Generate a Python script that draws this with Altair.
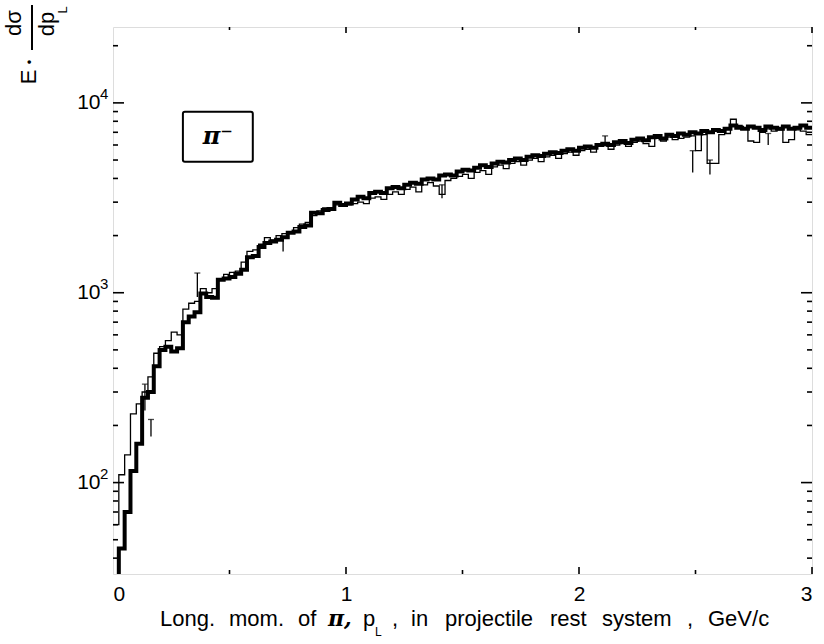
import altair as alt
import pandas as pd

# Histogram bin width in GeV/c; bin i covers [i*w, (i+1)*w)
BIN_WIDTH = 0.025

# E * d(sigma)/dp_L per bin, heavy histogram
thick_counts = [
    20, 45, 70, 115, 160, 280, 300, 410, 500, 520,
    490, 510, 700, 750, 790, 990, 950, 940, 1170, 1190,
    1210, 1260, 1320, 1540, 1560, 1740, 1830, 1860, 1900, 1960,
    2070, 2100, 2220, 2260, 2640, 2620, 2730, 2760, 2980, 2900,
    2950, 3100, 3200, 3150, 3350, 3400, 3350, 3550, 3600, 3550,
    3700, 3800, 3750, 3950, 4000, 3950, 4150, 4200, 4150, 4350,
    4450, 4400, 4550, 4700, 4600, 4800, 4900, 4850, 5000, 5100,
    5000, 5200, 5300, 5250, 5400, 5500, 5450, 5600, 5700, 5600,
    5800, 5900, 5800, 6000, 6100, 6000, 6200, 6300, 6150, 6400,
    6500, 6350, 6600, 6700, 6500, 6800, 6700, 6900, 6800, 7000,
    6900, 7100, 7000, 7200, 7100, 7300, 7600, 7400, 7300, 7500,
    7400, 7200, 7500, 7400, 7300, 7500, 7300, 7400, 7600, 7400,
]

# Same quantity, light histogram
thin_counts = [
    60, 110, 140, 230, 260, 300, 360, 480, 520, 560,
    620, 600, 820, 880, 900, 1050, 1000, 1050, 1180, 1250,
    1280, 1300, 1450, 1650, 1680, 1800, 1950, 1900, 2000, 2050,
    2100, 2200, 2300, 2350, 2550, 2700, 2800, 2750, 2900, 2850,
    2900, 2950, 3000, 2950, 3150, 3200, 3100, 3300, 3400, 3300,
    3500, 3600, 3400, 3700, 3800, 3650, 3300, 3900, 4000, 4100,
    4200, 4000, 4300, 4400, 4200, 4600, 4700, 4500, 4800, 4900,
    4700, 5000, 5100, 4900, 5200, 5300, 5100, 5400, 5500, 5300,
    5600, 5700, 5500, 5900, 6000, 5700, 6000, 6100, 5900, 6200,
    6300, 6100, 5900, 6500, 6300, 6600, 6400, 6500, 6600, 6700,
    5600, 6800, 4800, 4800, 6800, 6900, 8200, 7600, 7300, 6300,
    6200, 7000, 7300, 7100, 7200, 6200, 6400, 7200, 7100, 6800,
]

# Error bars: bin centre, lower and upper end
err_p = [0.137, 0.163, 0.362, 0.730, 1.412, 2.112, 2.488, 2.562, 2.812]
err_lo = [240, 175, 950, 1650, 3150, 5900, 4300, 4200, 6000]
err_hi = [330, 215, 1270, 1950, 3700, 6700, 5600, 5000, 6900]

# Tick positions and labels
x_labels = [0, 1, 2, 3]
x_major = [1, 2, 3]
x_minor = [0.5, 1.5, 2.5]
y_major = [100, 1000, 10000]
y_exponents = ["2", "3", "4"]
y_minor = [40, 50, 60, 70, 80, 90,
           200, 300, 400, 500, 600, 700, 800, 900,
           2000, 3000, 4000, 5000, 6000, 7000, 8000, 9000, 20000]

W, H = 699, 547
Y_DOMAIN = [33, 25100]
FONT = "Liberation Sans"

xs = alt.Scale(domain=[0, 3], nice=False, zero=False)
ys = alt.Scale(type="log", domain=Y_DOMAIN, nice=False)

x_axis = alt.Axis(values=x_labels, format="d", ticks=False, domain=False,
                  grid=False, labelFontSize=21, labelPadding=9, title=None,
                  labelFont=FONT, labelColor="black")
y_axis = alt.Axis(values=y_major, ticks=False, domain=False, grid=False,
                  labelExpr="'10'", labelFontSize=21, labelPadding=13, title=None,
                  labelFont=FONT, labelColor="black")


def X(field):
    return alt.X(field, scale=xs, axis=x_axis)


def Y(field):
    return alt.Y(field, scale=ys, axis=y_axis)


def step_frame(vals):
    edges = [i * BIN_WIDTH for i in range(len(vals) + 1)]
    return pd.DataFrame({"p": edges, "v": list(vals) + [vals[-1]]})


thin = alt.Chart(step_frame(thin_counts)).mark_line(
    interpolate="step-after", color="black", strokeWidth=1.3, clip=True
).encode(x=X("p:Q"), y=Y("v:Q"))

thick = alt.Chart(step_frame(thick_counts)).mark_line(
    interpolate="step-after", color="black", strokeWidth=4, clip=True
).encode(x=X("p:Q"), y=Y("v:Q"))

err_df = pd.DataFrame({"p": err_p, "lo": err_lo, "hi": err_hi})
err_rule = alt.Chart(err_df).mark_rule(color="black", strokeWidth=1.3).encode(
    x=X("p:Q"), y=Y("lo:Q"), y2="hi:Q")
err_cap = alt.Chart(err_df).mark_tick(color="black", thickness=1.3, size=6,
                                      orient="horizontal").encode(
    x=X("p:Q"), y=Y("hi:Q"))

# Inward tick marks on all four sides
ymaj_df = pd.DataFrame({"v": y_major, "e": y_exponents})
ymin_df = pd.DataFrame({"v": y_minor})
xmaj_df = pd.DataFrame({"p": x_major})
xmin_df = pd.DataFrame({"p": x_minor})


def y_ticks(df, x0, x1):
    return alt.Chart(df).mark_rule(color="black", strokeWidth=1.6).encode(
        y=Y("v:Q"), x=alt.value(x0), x2=alt.value(x1))


def x_ticks(df, y0, y1):
    return alt.Chart(df).mark_rule(color="black", strokeWidth=1.6).encode(
        x=X("p:Q"), y=alt.value(y0), y2=alt.value(y1))


ticks = [
    y_ticks(ymaj_df, 0, 11), y_ticks(ymin_df, 0, 5),
    y_ticks(ymaj_df, W - 11, W), y_ticks(ymin_df, W - 5, W),
    x_ticks(xmaj_df, H, H - 7), x_ticks(xmin_df, H, H - 4),
    x_ticks(xmaj_df, 0, 6), x_ticks(xmin_df, 0, 3),
]

# Decade exponents next to the "10" labels
exps = alt.Chart(ymaj_df).mark_text(
    font=FONT, fontSize=15, color="black", align="left", baseline="middle", dy=-9
).encode(y=Y("v:Q"), x=alt.value(-13), text="e:N")

# Particle label box
box_df = pd.DataFrame({"p0": [0.30], "p1": [0.60], "v0": [4900], "v1": [8970],
                       "pc": [0.45], "vc": [6650], "txt": ["π⁻"]})
box = alt.Chart(box_df).mark_rect(fill="white", stroke="black", strokeWidth=2,
                                  cornerRadius=2).encode(
    x=X("p0:Q"), x2="p1:Q", y=Y("v0:Q"), y2="v1:Q")
box_txt = alt.Chart(box_df).mark_text(font="DejaVu Serif", fontSize=24,
                                      fontStyle="italic", fontWeight="bold",
                                      color="black").encode(
    x=X("pc:Q"), y=Y("vc:Q"), text="txt:N")

anchor = pd.DataFrame({"a": [0]})


def label(txt, x, y, size, angle=0, align="center", font=FONT, style="normal",
          weight="normal"):
    """A free text placed in pixels relative to the plot's top-left corner."""
    return alt.Chart(anchor).mark_text(
        text=txt, angle=angle, color="black", font=font, fontSize=size,
        fontStyle=style, fontWeight=weight, align=align, baseline="middle"
    ).encode(x=alt.value(x), y=alt.value(y))


# Rotated y-axis title:  E . d(sigma) / d p_L
ytitle = [
    label("dσ", -99, -4, 22, angle=270),
    label("dp", -66, -3, 22, angle=270),
    label("L", -50, -17, 13, angle=270),
    label("E", -84, 50, 22, angle=270),
    label("•", -83, 35, 13, angle=270),
]
ybar = alt.Chart(anchor).mark_rule(color="black", strokeWidth=2).encode(
    x=alt.value(-81), y=alt.value(-22), y2=alt.value(23))

# x-axis title, word by word (evenly spaced lettering), with subscript L
OX = 113
xt_y = 592
xwords = [("Long.", 160), ("mom.", 229), ("of", 298), ("p", 363), (",", 392),
          ("in", 411), ("projectile", 445), ("rest", 550), ("system", 602),
          (",", 687), ("GeV/c", 708)]
xtitle = [label(w, px - OX, xt_y, 22, align="left") for w, px in xwords]
xtitle.append(label("π,", 328 - OX, xt_y, 22, align="left", font="DejaVu Serif",
                    style="italic", weight="bold"))
xtitle.append(label("L", 375 - OX, xt_y + 13, 12, align="left"))

chart = alt.layer(
    thin, thick, err_rule, err_cap, *ticks, exps, box, box_txt, *ytitle, ybar, *xtitle
).properties(
    width=W, height=H, autosize="none",
    padding={"left": 113, "top": 27, "right": 12, "bottom": 70},
).configure_view(stroke="black", strokeWidth=2.5).configure(background="white")

chart.save("out.html", embed_options={"renderer": "svg", "actions": False})
